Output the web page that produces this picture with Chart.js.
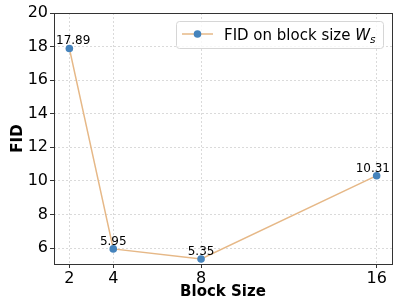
<!DOCTYPE html>
<html>
<head>
<meta charset="utf-8">
<script src="https://cdn.jsdelivr.net/npm/chart.js@4/dist/chart.umd.min.js"></script>
<style>
  html, body { margin: 0; padding: 0; background: #fff; }
  #wrap { width: 399px; height: 301px; }
</style>
</head>
<body>
<div id="wrap"><canvas id="fidChart"></canvas></div>
<script>
const blockSizes = [2, 4, 8, 16];
const fidValues = [17.89, 5.95, 5.35, 10.31];
const yTicks = [6, 8, 10, 12, 14, 16, 18, 20];
const seriesLabel = "FID on block size ";

const lineColor = "#e6b887";
const pointColor = "#4583bc";
const font = "DejaVu Sans";

// box around the plot area (matplotlib style)
const frame = {
  id: "frame",
  afterDraw(chart) {
    const { ctx, chartArea: a } = chart;
    ctx.save();
    ctx.strokeStyle = "#333";
    ctx.lineWidth = 1;
    ctx.strokeRect(a.left + 0.5, a.top + 0.5, a.right - a.left, a.bottom - a.top);
    ctx.restore();
  },
};

// value labels above each point
const valueLabels = {
  id: "valueLabels",
  afterDatasetsDraw(chart) {
    const { ctx, chartArea: a } = chart;
    const meta = chart.getDatasetMeta(0);
    ctx.save();
    ctx.font = "12px " + font;
    ctx.fillStyle = "#000";
    ctx.textBaseline = "alphabetic";
    meta.data.forEach((pt, i) => {
      const txt = fidValues[i].toFixed(2);
      const w = ctx.measureText(txt).width;
      let x = pt.x;
      // keep the labels inside the frame at the ends
      if (x - w / 2 < a.left + 2) x = a.left + 2 + w / 2;
      if (x + w / 2 > a.right - 2) x = a.right - 2 - w / 2;
      ctx.textAlign = "center";
      ctx.fillText(txt, x, pt.y - 4);
    });
    ctx.restore();
  },
};

// legend box with italic W and subscript s
const legendBox = {
  id: "legendBox",
  afterDraw(chart) {
    const { ctx } = chart;
    const x = 176.5, y = 21.5, w = 207, h = 27;
    ctx.save();
    ctx.fillStyle = "rgba(255,255,255,0.8)";
    ctx.strokeStyle = "#d6d6d6";
    ctx.lineWidth = 1;
    ctx.beginPath();
    ctx.roundRect(x, y, w, h, 3);
    ctx.fill();
    ctx.stroke();

    const cy = y + 12.5;
    ctx.strokeStyle = lineColor;
    ctx.lineWidth = 1.5;
    ctx.beginPath();
    ctx.moveTo(182, cy);
    ctx.lineTo(213, cy);
    ctx.stroke();
    ctx.fillStyle = pointColor;
    ctx.beginPath();
    ctx.arc(197.5, cy, 3.8, 0, Math.PI * 2);
    ctx.fill();

    ctx.fillStyle = "#000";
    ctx.textBaseline = "alphabetic";
    ctx.textAlign = "left";
    ctx.font = "15px " + font;
    let tx = 224;
    const base = cy + 5.5;
    ctx.fillText(seriesLabel, tx, base);
    tx += ctx.measureText(seriesLabel).width;
    ctx.font = "italic 15px " + font;
    ctx.fillText("W", tx, base);
    tx += ctx.measureText("W").width;
    ctx.font = "italic 10.5px " + font;
    ctx.fillText("s", tx, base + 3);
    ctx.restore();
  },
};

new Chart(document.getElementById("fidChart"), {
  type: "line",
  data: {
    datasets: [
      {
        label: seriesLabel + "Ws",
        data: blockSizes.map((b, i) => ({ x: b, y: fidValues[i] })),
        borderColor: lineColor,
        borderWidth: 1.5,
        pointBackgroundColor: pointColor,
        pointBorderColor: pointColor,
        pointRadius: 3.8,
        pointBorderWidth: 0,
        tension: 0,
      },
    ],
  },
  options: {
    responsive: true,
    maintainAspectRatio: false,
    animation: false,
    layout: { padding: { top: 13, right: 7, left: 0, bottom: 0 } },
    plugins: {
      legend: { display: false },
      tooltip: { enabled: false },
    },
    scales: {
      x: {
        type: "linear",
        min: 1.3,
        max: 16.7,
        afterBuildTicks: (s) => {
          s.ticks = blockSizes.map((v) => ({ value: v }));
        },
        afterFit: (s) => {
          s.height = 37;
        },
        ticks: {
          color: "#000",
          font: { family: font, size: 16 },
          padding: 1,
        },
        grid: {
          color: "#dadada",
          tickColor: "#333",
          tickLength: 4,
          tickBorderDash: [],
        },
        border: { display: false, dash: [2, 2] },
        title: {
          display: true,
          text: "Block Size",
          color: "#000",
          font: { family: font, size: 15, weight: "bold" },
          padding: { top: 0, bottom: 0 },
        },
      },
      y: {
        min: 5.05,
        max: 20,
        afterBuildTicks: (s) => {
          s.ticks = yTicks.map((v) => ({ value: v }));
        },
        afterFit: (s) => {
          s.width = 54;
        },
        ticks: {
          color: "#000",
          font: { family: font, size: 16 },
          padding: 2,
        },
        grid: {
          color: "#dadada",
          tickColor: "#333",
          tickLength: 4,
          tickBorderDash: [],
        },
        border: { display: false, dash: [2, 2] },
        title: {
          display: true,
          text: "FID",
          color: "#000",
          font: { family: font, size: 15, weight: "bold" },
          padding: { top: 9, bottom: 0 },
        },
      },
    },
  },
  plugins: [frame, valueLabels, legendBox],
});
</script>
</body>
</html>
